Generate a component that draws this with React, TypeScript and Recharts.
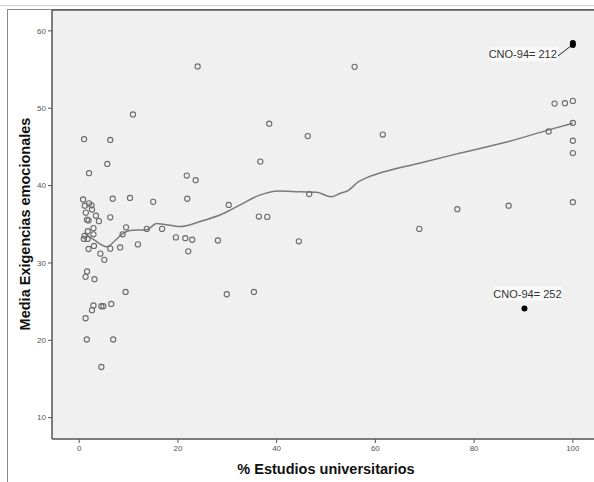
import {
  ComposedChart,
  Scatter,
  Line,
  XAxis,
  YAxis,
  CartesianGrid,
  ReferenceLine,
} from 'recharts';

// ── Data ──────────────────────────────────────────────────────────────────────

// % Estudios universitarios per occupation
const pctUniv = [
  24.0, 55.8, 10.9, 38.5, 1.0, 6.3, 46.3, 61.5, 5.7, 36.7, 2.0, 21.8, 23.6, 0.8,
  6.8, 10.3, 15.0, 21.9, 30.3, 36.4, 38.1, 1.15, 2.0, 2.5, 2.6, 1.35, 1.6, 1.9,
  3.4, 4.0, 6.3, 2.9, 1.75, 2.9, 1.1, 0.95, 1.7, 9.5, 8.8, 13.7, 16.8, 19.6, 21.5,
  22.9, 28.1, 44.5, 11.9, 8.3, 3.0, 1.9, 4.3, 5.1, 6.3, 22.1, 1.6, 1.3, 3.1, 9.4,
  29.9, 35.4, 2.9, 2.6, 4.5, 4.9, 6.5, 1.3, 1.55, 6.9, 4.5, 96.3, 98.4, 100, 100,
  95.1, 100, 100, 46.6, 100, 87.0, 76.6, 68.9,
];

// Media Exigencias emocionales per occupation
const emoDemands = [
  55.4, 55.35, 49.2, 48.0, 46.0, 45.9, 46.4, 46.6, 42.8, 43.1, 41.6, 41.3, 40.7,
  38.2, 38.3, 38.4, 37.9, 38.3, 37.5, 36.0, 35.95, 37.4, 37.7, 37.45, 36.9, 36.5,
  35.6, 35.5, 36.1, 35.4, 35.9, 34.5, 34.1, 33.7, 33.5, 33.1, 33.1, 34.6, 33.7,
  34.4, 34.4, 33.3, 33.2, 33.0, 32.9, 32.8, 32.4, 32.0, 32.2, 31.8, 31.2, 30.4,
  31.85, 31.5, 28.9, 28.2, 27.9, 26.25, 25.95, 26.25, 24.5, 23.9, 24.4, 24.4,
  24.7, 22.85, 20.1, 20.1, 16.55, 50.6, 50.65, 50.95, 48.1, 47.0, 45.8, 44.2,
  38.9, 37.85, 37.4, 36.95, 34.4,
];

// Labelled outliers
const outlierX = [100, 90.2];
const outlierY = [58.3, 24.1];
const outlierLabels = ['CNO-94= 212', 'CNO-94= 252'];

// Loess fit line
const fitX = [
  1.0, 3.0, 5.6, 7.3, 8.8, 10.3, 13.7, 15.7, 17.1, 20.5, 24.5, 29.2, 32.6, 36.3,
  40.4, 44.8, 48.1, 51.0, 52.9, 54.3, 56.6, 58.5, 60.3, 68.9, 76.5, 87.0, 95.1, 100,
];
const fitY = [
  33.9, 33.0, 32.1, 32.9, 33.8, 34.2, 34.3, 35.1, 35.0, 34.7, 35.35, 36.4, 37.5,
  38.7, 39.3, 39.2, 39.15, 38.55, 39.0, 39.3, 40.5, 41.1, 41.5, 42.9, 44.1, 45.7,
  47.2, 48.05,
];

const xTicks = [0, 20, 40, 60, 80, 100];
const yTicks = [10, 20, 30, 40, 50, 60];

const points = pctUniv.map((x, i) => ({ x, y: emoDemands[i] }));
const outliers = outlierX.map((x, i) => ({ x, y: outlierY[i], label: outlierLabels[i] }));
const fitLine = fitX.map((x, i) => ({ x, fit: fitY[i] }));

// ── Styles ────────────────────────────────────────────────────────────────────

const FONT = '"Liberation Sans", Arial, sans-serif';
const AXIS = '#555';
const tickStyle = { fill: '#555', fontSize: 8, fontFamily: FONT };

function HollowDot(props: any) {
  const { cx, cy } = props;
  return <circle cx={cx} cy={cy} r={2.6} fill="none" stroke="#6b6b6b" strokeWidth={1.1} />;
}

function OutlierDot(props: any) {
  const { cx, cy, payload, index } = props;
  const label = payload?.label ?? '';
  if (index === 0) {
    // label to the lower-left with a leader line
    return (
      <g>
        <rect x={cx - 82} y={cy + 3} width={67} height={14} fill="#fafafa" />
        <text x={cx - 16} y={cy + 14} textAnchor="end" fontSize={11} fill="#333" fontFamily={FONT}>
          {label}
        </text>
        <line x1={cx - 15} y1={cy + 12} x2={cx - 2} y2={cy + 2} stroke="#222" strokeWidth={1} />
        <circle cx={cx} cy={cy - 1} r={3} fill="#000" />
        <circle cx={cx} cy={cy + 1} r={3} fill="#000" />
      </g>
    );
  }
  return (
    <g>
      <rect x={cx - 31} y={cy - 22} width={68} height={14} fill="#fafafa" />
      <text x={cx + 3} y={cy - 11} textAnchor="middle" fontSize={11} fill="#333" fontFamily={FONT}>
        {label}
      </text>
      <circle cx={cx} cy={cy} r={3} fill="#000" />
    </g>
  );
}

// ── Component ─────────────────────────────────────────────────────────────────

export default function App() {
  return (
    <div
      style={{
        position: 'absolute',
        left: 0,
        top: 0,
        width: 594,
        height: 482,
        overflow: 'hidden',
        background: '#fff',
        fontFamily: FONT,
      }}
    >
      {/* outer frame */}
      <div style={{ position: 'absolute', left: 0, top: 5, width: 594, height: 1, background: '#cfcfcf' }} />
      <div
        style={{
          position: 'absolute',
          left: 7,
          top: 9,
          width: 600,
          height: 480,
          borderLeft: '1.5px solid #8a8a8a',
          borderTop: '1.5px solid #8a8a8a',
        }}
      />

      <div style={{ position: 'absolute', left: 0, top: 0 }}>
        <ComposedChart width={600} height={482} margin={{ top: 10, right: 0, bottom: 0, left: 0 }}>
          <CartesianGrid horizontal={false} vertical={false} fill="#f0f0f0" />
          <XAxis
            type="number"
            dataKey="x"
            domain={[-5.5, 105.5]}
            ticks={xTicks}
            allowDataOverflow
            height={43}
            tick={tickStyle}
            tickSize={4}
            tickMargin={2}
            stroke={AXIS}
            strokeWidth={1.5}
            tickLine={{ stroke: AXIS, strokeWidth: 1 }}
          />
          <YAxis
            type="number"
            dataKey="y"
            domain={[7.24, 62.7]}
            ticks={yTicks}
            allowDataOverflow
            width={52}
            tick={tickStyle}
            tickSize={4}
            tickMargin={2}
            stroke={AXIS}
            strokeWidth={1.5}
            tickLine={{ stroke: AXIS, strokeWidth: 1 }}
          />
          <ReferenceLine y={62.7} stroke={AXIS} strokeWidth={1.5} />
          <Line
            data={fitLine}
            dataKey="fit"
            type="monotone"
            stroke="#7a7a7a"
            strokeWidth={1.5}
            dot={false}
            activeDot={false}
            isAnimationActive={false}
          />
          <Scatter data={points} dataKey="y" shape={<HollowDot />} isAnimationActive={false} />
          <Scatter data={outliers} dataKey="y" shape={<OutlierDot />} isAnimationActive={false} />
        </ComposedChart>
      </div>

      {/* axis titles */}
      <div
        style={{
          position: 'absolute',
          left: 25,
          top: 224,
          transform: 'translate(-50%, -50%) rotate(-90deg)',
          whiteSpace: 'nowrap',
          fontSize: 14.5,
          fontWeight: 'bold',
          color: '#111',
        }}
      >
        Media Exigencias emocionales
      </div>
      <div
        style={{
          position: 'absolute',
          left: 326,
          top: 469,
          transform: 'translate(-50%, -50%)',
          whiteSpace: 'nowrap',
          fontSize: 14.5,
          fontWeight: 'bold',
          color: '#111',
        }}
      >
        % Estudios universitarios
      </div>
    </div>
  );
}
